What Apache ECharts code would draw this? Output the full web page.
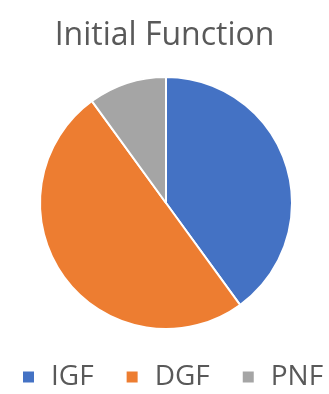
<!DOCTYPE html>
<html><head><meta charset="utf-8">
<script src="https://cdn.jsdelivr.net/npm/echarts@6/dist/echarts.min.js"></script>
<style>html,body{margin:0;padding:0;background:#fff}#c{width:329px;height:394px}</style>
</head><body><div id="c"></div>
<script>
const categories = ['IGF', 'DGF', 'PNF'];
const values = [40, 50, 10];
const colors = ['#4472C4', '#ED7D31', '#A5A5A5'];
const titleText = 'Initial Function';

const chart = echarts.init(document.getElementById('c'), null, {renderer: 'canvas'});
chart.setOption({
  animation: false,
  color: colors,
  title: {
    text: titleText, left: 'center', top: 15,
    textStyle: {fontFamily: 'Open Sans', fontSize: 32, fontWeight: 'normal', color: '#595959'}
  },
  legend: {
    data: categories, top: 358, left: 16,
    icon: 'rect', itemWidth: 13, itemHeight: 13, itemGap: 31,
    textStyle: {fontFamily: 'Open Sans', fontSize: 28, color: '#595959', padding: [0, 0, 0, 11]}
  },
  series: [{
    type: 'pie', radius: 126, center: [166, 203], startAngle: 90, clockwise: true,
    label: {show: false}, labelLine: {show: false},
    itemStyle: {borderColor: '#fff', borderWidth: 2},
    data: categories.map((c, i) => ({name: c, value: values[i]}))
  }]
});
</script></body></html>
